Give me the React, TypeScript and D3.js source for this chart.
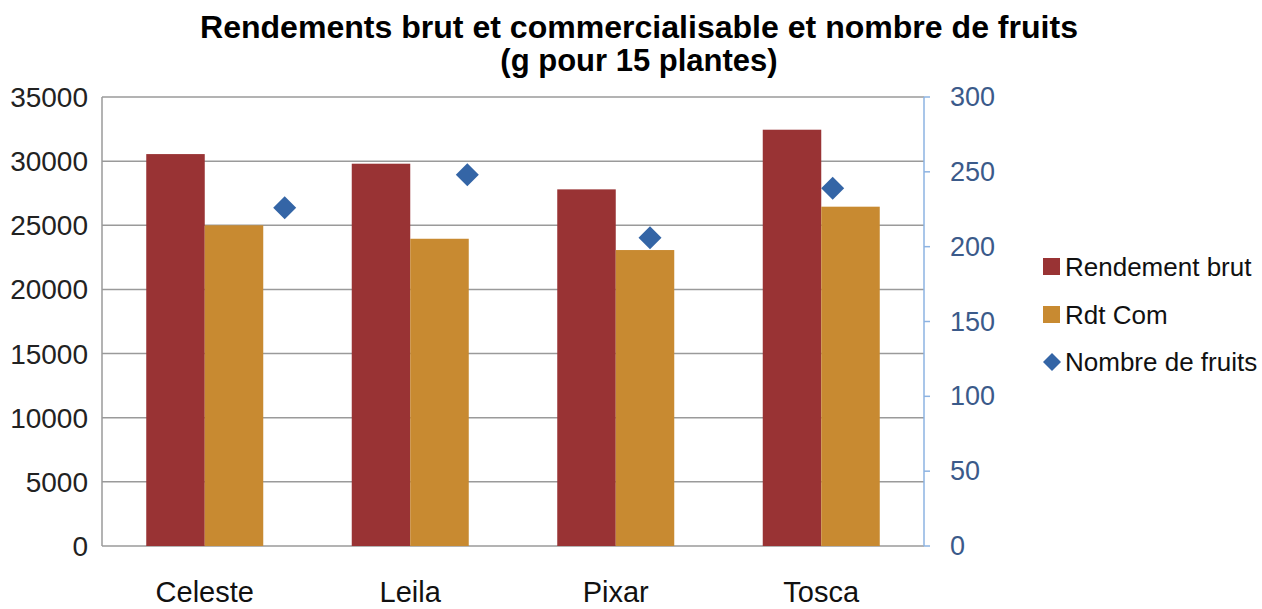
import React from "react";
import { scaleLinear, scaleBand, range } from "d3";

const W = 1262;
const H = 609;
const MARGIN = { top: 97, right: 338, bottom: 63, left: 102 };

const categories = ["Celeste", "Leila", "Pixar", "Tosca"];
const rendementBrut = [30550, 29800, 27800, 32450];
const rdtCom = [25000, 23950, 23070, 26450];
const nombreFruits = [226, 248, 206, 239];

const leftTicks = [0, 5000, 10000, 15000, 20000, 25000, 30000, 35000];
const rightTicks = [0, 50, 100, 150, 200, 250, 300];

const RED = "#993334";
const ORANGE = "#C88A31";
const BLUE = "#3465A6";

// main chart component
function App() {
  const boundsWidth = W - MARGIN.left - MARGIN.right;
  const boundsHeight = H - MARGIN.top - MARGIN.bottom;

  const xScale = scaleBand().domain(categories).range([0, boundsWidth]);
  const bw = 58.5;
  // the line series sits on its own secondary category axis
  const xPoint = scaleLinear().domain([0, 4.5]).range([0, boundsWidth]);
  const yLeft = scaleLinear().domain([0, 35000]).range([boundsHeight, 0]);
  const yRight = scaleLinear().domain([0, 300]).range([boundsHeight, 0]);

  const font = "'Liberation Sans', Arial, sans-serif";
  const d = 11.5;
  const diamond = (cx: number, cy: number, r: number) =>
    `M${cx},${cy - r}L${cx + r},${cy}L${cx},${cy + r}L${cx - r},${cy}Z`;

  return (
    <svg width={W} height={H} style={{ position: "absolute", left: 0, top: 0 }} fontFamily={font}>
      <rect width={W} height={H} fill="#fff" />
      <text x={639} y={38} textAnchor="middle" fontSize={31} fontWeight="bold" textLength={878} lengthAdjust="spacingAndGlyphs">
        Rendements brut et commercialisable et nombre de fruits
      </text>
      <text x={639} y={71} textAnchor="middle" fontSize={31} fontWeight="bold">
        (g pour 15 plantes)
      </text>

      <g transform={`translate(${MARGIN.left}, ${MARGIN.top})`}>
        {/* gridlines */}
        {leftTicks.map((t) => (
          <line key={t} x1={0} x2={boundsWidth} y1={yLeft(t)} y2={yLeft(t)} stroke="#9a9a9a" strokeWidth={1.5} />
        ))}
        <line x1={0} x2={0} y1={0} y2={boundsHeight} stroke="#9a9a9a" strokeWidth={1.5} />
        {leftTicks.map((t) => (
          <text key={t} x={-14} y={yLeft(t) + 10} textAnchor="end" fontSize={28} fill="#222">
            {t}
          </text>
        ))}

        {/* bars */}
        {categories.map((c, i) => {
          const cx = (xScale(c) ?? 0) + xScale.bandwidth() / 2;
          return (
            <g key={c}>
              <rect x={cx - bw} y={yLeft(rendementBrut[i])} width={bw} height={boundsHeight - yLeft(rendementBrut[i])} fill={RED} />
              <rect x={cx} y={yLeft(rdtCom[i])} width={bw} height={boundsHeight - yLeft(rdtCom[i])} fill={ORANGE} />
              <text x={cx} y={boundsHeight + 56} textAnchor="middle" fontSize={29} fill="#111">
                {c}
              </text>
            </g>
          );
        })}

        {/* diamonds */}
        {range(nombreFruits.length).map((i) => (
          <path key={i} d={diamond(xPoint(i + 1), yRight(nombreFruits[i]), d)} fill={BLUE} />
        ))}

        {/* right axis */}
        <g transform={`translate(${boundsWidth}, 0)`}>
          <line x1={0} x2={0} y1={0} y2={boundsHeight} stroke="#8DB3E2" strokeWidth={1.5} />
          {rightTicks.map((t) => (
            <g key={t} transform={`translate(0, ${yRight(t)})`}>
              <line x1={0} x2={6} stroke="#8DB3E2" strokeWidth={1.5} />
              <text x={26} y={9} fontSize={27} fill="#3B5A8A">
                {t}
              </text>
            </g>
          ))}
        </g>
      </g>

      {/* legend */}
      <g transform="translate(1043, 258)">
        <rect x={0} y={0} width={17} height={17} fill={RED} />
        <text x={22} y={18} fontSize={26} fill="#111">Rendement brut</text>
        <rect x={0} y={48} width={17} height={17} fill={ORANGE} />
        <text x={22} y={66} fontSize={26} fill="#111">Rdt Com</text>
        <path d={diamond(9, 104, 9)} fill={BLUE} />
        <text x={22} y={113} fontSize={26} fill="#111">Nombre de fruits</text>
      </g>
    </svg>
  );
}

export default App;
